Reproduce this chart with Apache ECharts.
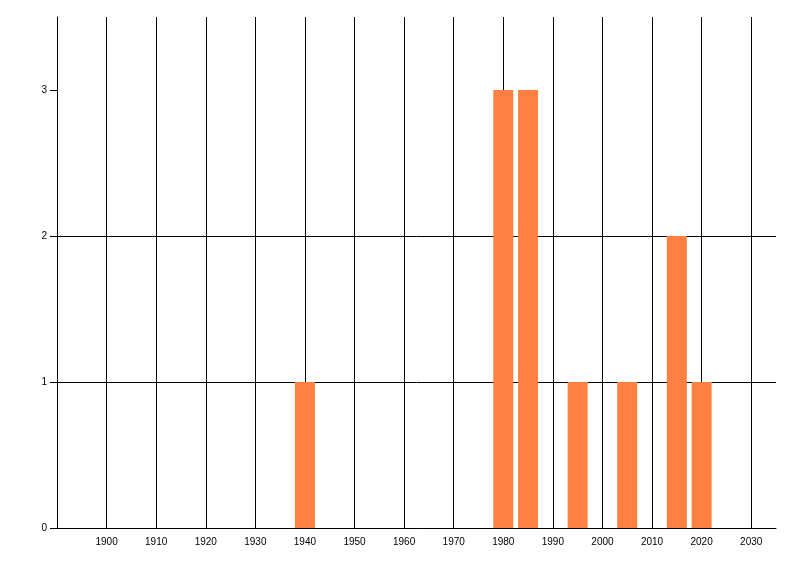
<!DOCTYPE html>
<html>
<head>
<meta charset="utf-8">
<script src="https://cdn.jsdelivr.net/npm/echarts@6/dist/echarts.min.js"></script>
<style>html,body{margin:0;padding:0;background:#fff}#c{width:800px;height:576px}</style>
</head>
<body>
<div id="c"></div>
<script>
const years = [1940, 1980, 1985, 1995, 2005, 2015, 2020];
const counts = [1, 3, 3, 1, 1, 2, 1];
const yTicks = [0, 1, 2, 3];

const chart = echarts.init(document.getElementById('c'), null, {renderer: 'canvas'});
const font = {fontFamily: 'Liberation Sans', fontSize: 10, color: '#000'};
chart.setOption({
  animation: false,
  backgroundColor: '#fff',
  grid: {left: 57, right: 24, top: 17, bottom: 48, containLabel: false},
  xAxis: {
    type: 'value', min: 1890, max: 2035, interval: 10,
    axisLine: {show: true, onZero: false, lineStyle: {color: '#000', width: 1}},
    axisTick: {show: false},
    axisLabel: Object.assign({showMinLabel: false, showMaxLabel: false, margin: 9, formatter: v => String(v)}, font),
    splitLine: {show: true, showMaxLine: false, lineStyle: {color: '#000', width: 1}}
  },
  yAxis: {
    type: 'value', min: 0, max: 3.5, interval: 1,
    axisLine: {show: true, lineStyle: {color: '#000', width: 1}},
    axisTick: {show: true, length: 7, customValues: yTicks, lineStyle: {color: '#000'}},
    axisLabel: Object.assign({customValues: yTicks, margin: 10, formatter: v => String(v)}, font),
    splitLine: {show: true, showMaxLine: false, lineStyle: {color: '#000', width: 1}}
  },
  series: [{
    type: 'bar',
    barWidth: 20,
    itemStyle: {color: '#FF8040'},
    data: years.map((y, i) => [y, counts[i]])
  }]
});
</script>
</body>
</html>
